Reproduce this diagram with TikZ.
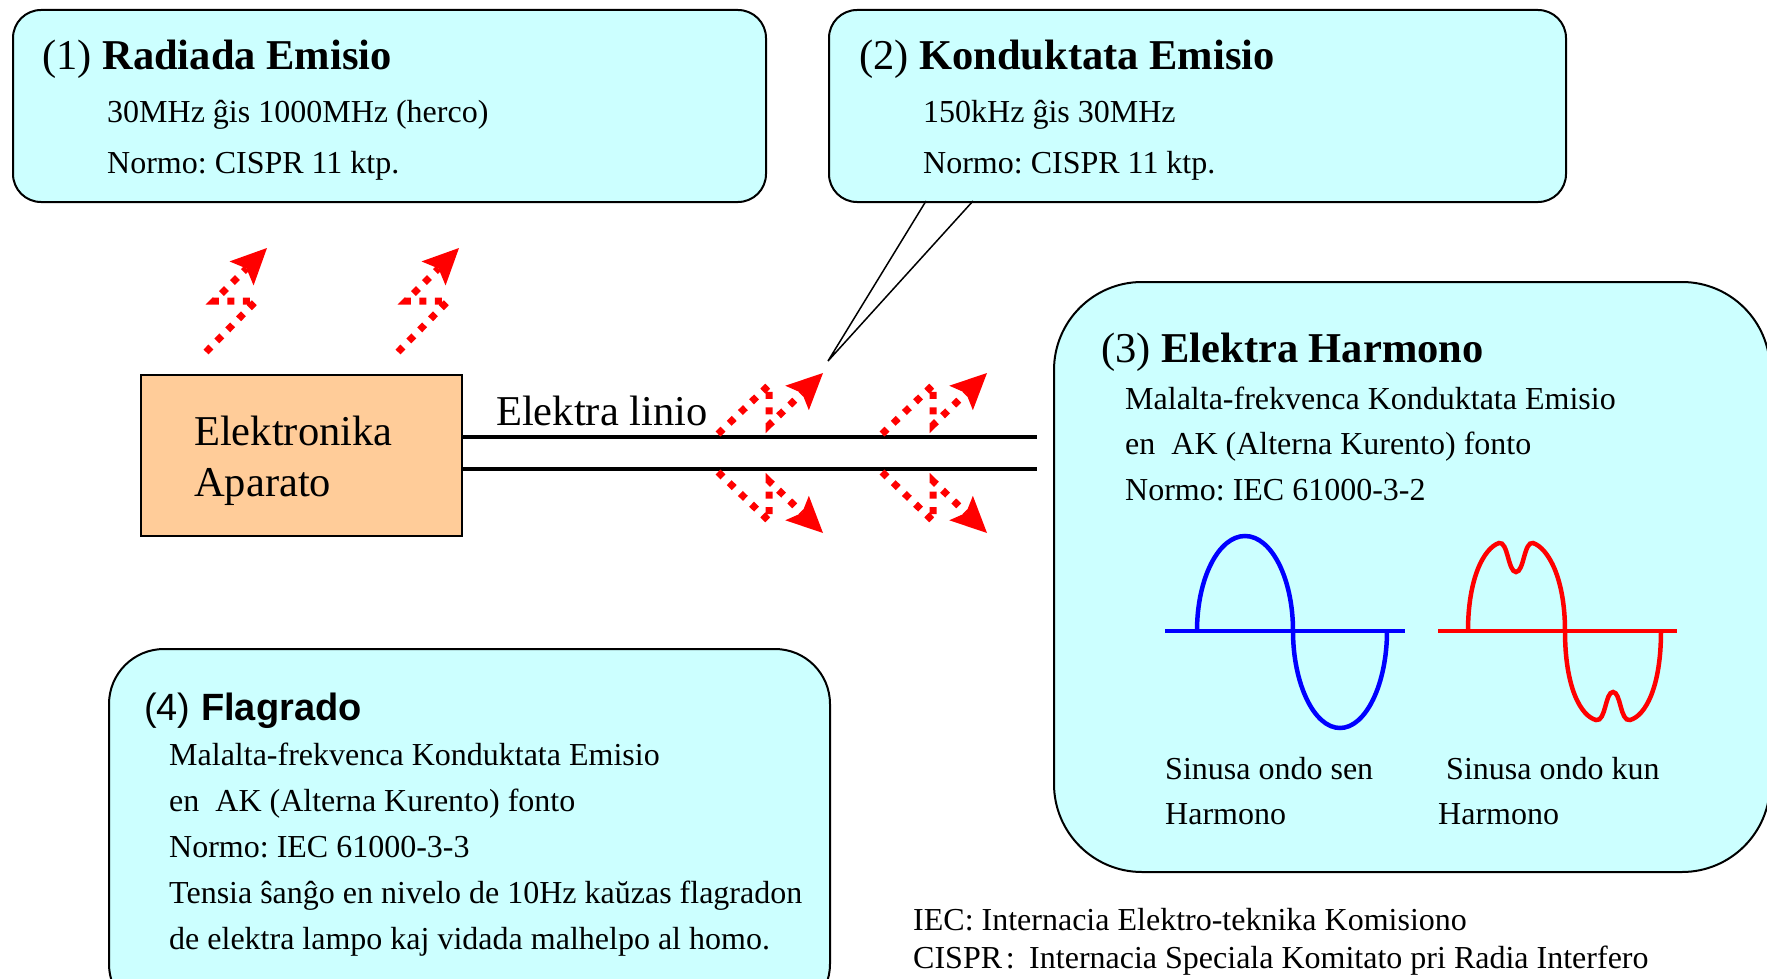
\documentclass[tikz,border=0pt]{standalone}
\usepackage{fontspec}
\setmainfont{Liberation Serif}
\newfontfamily\arialf{Liberation Sans}
\usetikzlibrary{arrows.meta}
\definecolor{boxcyan}{HTML}{CCFFFF}
\definecolor{apporange}{HTML}{FFCC99}
\frenchspacing
\begin{document}
\begin{tikzpicture}[x=1pt,y=-1pt,
  infobox/.style={draw=black,line width=2pt,fill=boxcyan,anchor=north west,inner sep=0pt},
  txt/.style={anchor=base west,inner sep=0pt,font=\fontsize{32}{38}\selectfont},
  ttl/.style={anchor=base west,inner sep=0pt,font=\fontsize{42.5}{50}\selectfont},
  zig/.style={draw=red,line width=7pt,dash pattern=on 7pt off 8.5pt,
    -{Stealth[length=36pt,width=34pt,inset=7pt,line width=0pt]}},
  wire/.style={line width=4pt},
  wave/.style={line width=4.5pt},
]
\clip (0,0) rectangle (1767,979);
\fill[white] (0,0) rectangle (1767,979);

% boxes
\node[infobox,rounded corners=28pt,minimum width=753pt,minimum height=192pt] (b1) at (12,9) {};
\node[infobox,rounded corners=28pt,minimum width=737pt,minimum height=192pt] (b2) at (828,9) {};
\node[infobox,rounded corners=88pt,minimum width=716pt,minimum height=590pt] (b3) at (1053,281) {};
\node[infobox,rounded corners=55pt,minimum width=721pt,minimum height=370pt] (b4) at (108,648) {};
\node[draw=black,line width=2pt,fill=apporange,anchor=north west,inner sep=0pt,
  minimum width=321pt,minimum height=161pt] (app) at (140,374) {};

% box 1 text
\node[ttl] (t1) at (42,70) {(1) \textbf{Radiada Emisio}};
\node[txt] (t1a) at (107,123) {30MHz ĝis 1000MHz (herco)};
\node[txt] (t1b) at (107,173) {Normo: CISPR 11 ktp.};

% box 2 text
\node[ttl] (t2) at (859,70) {(2) \textbf{Konduktata Emisio}};
\node[txt] (t2a) at (923,123) {150kHz ĝis 30MHz};
\node[txt] (t2b) at (923,173) {Normo: CISPR 11 ktp.};

% callout
\coordinate (ctip) at (828,361);
\coordinate (cl) at (926,201);
\coordinate (cr) at (973,201);
\draw[line width=1.5pt] (cl) -- (ctip) -- (cr);

% box 3 text
\node[ttl] (t3) at (1101,362) {(3) \textbf{Elektra Harmono}};
\node[txt] (t3a) at (1125,409) {Malalta-frekvenca Konduktata Emisio};
\node[txt] (t3b) at (1125,454) {en\ \ AK (Alterna Kurento) fonto};
\node[txt] (t3c) at (1125,500) {Normo: IEC 61000-3-2};
\node[txt] (s1a) at (1165,779) {Sinusa ondo sen};
\node[txt] (s1b) at (1165,824) {Harmono};
\node[txt] (s2a) at (1446,779) {Sinusa ondo kun};
\node[txt] (s2b) at (1438,824) {Harmono};

% waves
\draw[blue,wave] (1165,631) -- (1405,631);
\draw[blue,wave] (1197,631) .. controls (1197,578.5) and (1218.5,536) .. (1245,536)
  .. controls (1271.5,536) and (1293,578.5) .. (1293,631)
  .. controls (1293,683.5) and (1314,728) .. (1340,728)
  .. controls (1366,728) and (1387,683.5) .. (1387,631);
\draw[red,wave] (1438,631) -- (1677,631);
\draw[red,wave] (1468,631) .. controls (1468,578) and (1484,548) .. (1499,543)
  .. controls (1508,541) and (1508,572) .. (1516,572)
  .. controls (1524,572) and (1524,541) .. (1533,543)
  .. controls (1548,548) and (1565,578) .. (1565,631)
  .. controls (1565,688) and (1581,716) .. (1596,720)
  .. controls (1606,722) and (1605,692) .. (1613,692)
  .. controls (1621,692) and (1620,722) .. (1630,720)
  .. controls (1645,716) and (1661,688) .. (1661,631);

% box 4 text
\node[anchor=base west,inner sep=0pt,font=\arialf\fontsize{38}{46}\selectfont] (t4) at (144,720) {(4) \textbf{Flagrado}};
\node[txt] (t4a) at (169,765) {Malalta-frekvenca Konduktata Emisio};
\node[txt] (t4b) at (169,811) {en\ \ AK (Alterna Kurento) fonto};
\node[txt] (t4c) at (169,857) {Normo: IEC 61000-3-3};
\node[txt] (t4d) at (169,903) {Tensia ŝanĝo en nivelo de 10Hz kaŭzas flagradon};
\node[txt] (t4e) at (169,949) {de elektra lampo kaj vidada malhelpo al homo.};

% apparatus
\node[ttl] (ap1) at (194,445) {Elektronika};
\node[ttl] (ap2) at (194,496) {Aparato};
\node[ttl] (lin) at (496,425) {Elektra linio};

% power lines
\coordinate (w1) at (1037,437);
\coordinate (w2) at (1037,469);
\draw[wire] (app.east |- w1) -- (w1);
\draw[wire] (app.east |- w2) -- (w2);

% radiated arrows
\draw[zig] (206,352) -- (256,301) -- (214,301) -- (267,248);
\draw[zig] (398,352) -- (448,301) -- (406,301) -- (459,248);

% conducted arrows
\draw[zig] (718,434) -- (769,385) -- (769,425) -- (823,373);
\draw[zig] (718,472) -- (769,521) -- (769,481) -- (823,533);
\draw[zig] (882,434) -- (933,385) -- (933,425) -- (987,373);
\draw[zig] (882,472) -- (933,521) -- (933,481) -- (987,533);

% footnotes
\node[txt] (n1) at (913,930) {IEC: Internacia Elektro-teknika Komisiono};
\node[txt] (n2) at (913,968) {CISPR\hspace{0.12em}:\hspace{0.45em}Internacia Speciala Komitato pri Radia Interfero};
\end{tikzpicture}
\end{document}
